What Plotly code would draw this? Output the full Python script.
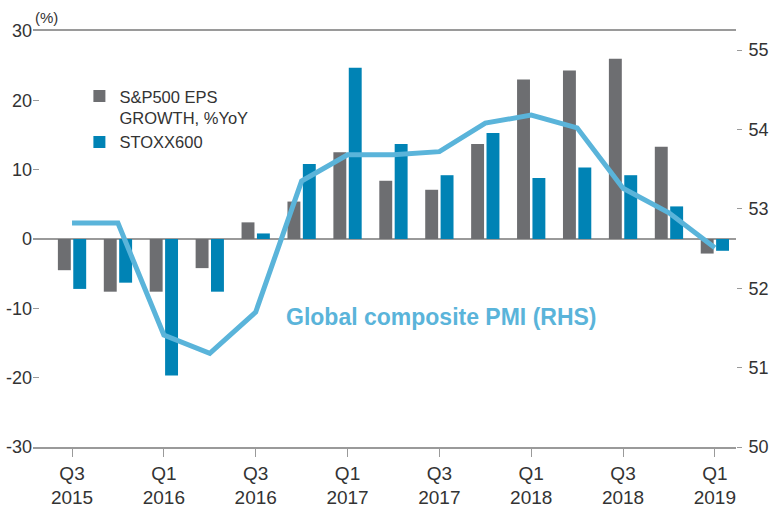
import plotly.graph_objects as go

quarters = ["Q3 2015", "Q4 2015", "Q1 2016", "Q2 2016", "Q3 2016", "Q4 2016",
            "Q1 2017", "Q2 2017", "Q3 2017", "Q4 2017", "Q1 2018", "Q2 2018",
            "Q3 2018", "Q4 2018", "Q1 2019"]
sp500_eps = [-4.5, -7.6, -7.6, -4.2, 2.4, 5.4, 12.5, 8.4, 7.1, 13.7, 23.0, 24.3, 26.0, 13.3, -2.1]
stoxx600 = [-7.2, -6.3, -19.7, -7.6, 0.8, 10.8, 24.7, 13.7, 9.2, 15.3, 8.8, 10.3, 9.2, 4.7, -1.7]
pmi = [52.82, 52.82, 51.41, 51.18, 51.70, 53.35, 53.68, 53.68, 53.72, 54.08, 54.18, 54.02, 53.26, 52.95, 52.51]

tick_quarters = quarters[::2]
tick_text = [q.replace(" ", "<br>") for q in tick_quarters]
left_ticks = [-30, -20, -10, 0, 10, 20, 30]
left_text = [str(v) for v in left_ticks]
right_ticks = [50, 51, 52, 53, 54, 55]

GREY = "#6d6e71"
BLUE = "#0083b5"
LIGHT = "#5ab4da"
TXT = "#333333"
AX = "#9a9a9a"
FONT = "Liberation Sans"

fig = go.Figure()
fig.add_trace(go.Bar(x=quarters, y=sp500_eps, name="S&P500 EPS<br>GROWTH, %YoY",
                     marker=dict(color=GREY, line=dict(width=0))))
fig.add_trace(go.Bar(x=quarters, y=stoxx600, name="STOXX600",
                     marker=dict(color=BLUE, line=dict(width=0))))
fig.add_trace(go.Scatter(x=quarters, y=pmi, yaxis="y2", mode="lines",
                         line=dict(color=LIGHT, width=5), showlegend=False,
                         name="Global composite PMI (RHS)"))

fig.update_layout(
    width=771, height=507,
    margin=dict(l=33, r=35, t=31, b=60),
    paper_bgcolor="white", plot_bgcolor="white",
    font=dict(family=FONT, color=TXT),
    barmode="group", bargap=0.33, bargroupgap=0.16,
    legend=dict(x=0.066, y=0.885, xanchor="left", yanchor="top",
                font=dict(size=16.5, color=TXT), valign="top",
                bgcolor="rgba(0,0,0,0)", tracegroupgap=4),
    xaxis=dict(type="category", range=[-0.85, 14.46], automargin=False,
               tickvals=tick_quarters, ticktext=tick_text,
               tickfont=dict(size=19, color=TXT),
               showline=True, linecolor=AX, linewidth=1.5, mirror=True,
               ticks="outside", ticklen=8, tickcolor=AX, tickwidth=1.2,
               showgrid=False, zeroline=False),
    yaxis=dict(range=[-30, 30], tickvals=left_ticks, ticktext=left_text, automargin=False,
               tickfont=dict(size=18, color=TXT),
               ticks="inside", ticklen=6, tickcolor=AX, tickwidth=1,
               showgrid=False, showline=False,
               zeroline=True, zerolinecolor=AX, zerolinewidth=1.5),
    yaxis2=dict(range=[50, 55.24], tickvals=right_ticks, overlaying="y", side="right",
                automargin=False, tickfont=dict(size=18, color=TXT),
                ticks="outside", ticklen=5, tickcolor=AX, tickwidth=1,
                ticklabelstandoff=3,
                showgrid=False, showline=False, zeroline=False),
    annotations=[
        dict(text="(%)", x=0.0, y=1.0, xref="paper", yref="paper",
             xanchor="left", yanchor="bottom", showarrow=False, yshift=3,
             font=dict(size=15, color=TXT)),
        dict(text="<b>Global composite PMI (RHS)</b>", x=0.581, y=0.313,
             xref="paper", yref="paper", xanchor="center", yanchor="middle",
             showarrow=False, font=dict(size=23, color=LIGHT)),
    ],
)

fig.write_html("out.html", config={"displayModeBar": False},
               post_script="document.body.style.margin='0';")
